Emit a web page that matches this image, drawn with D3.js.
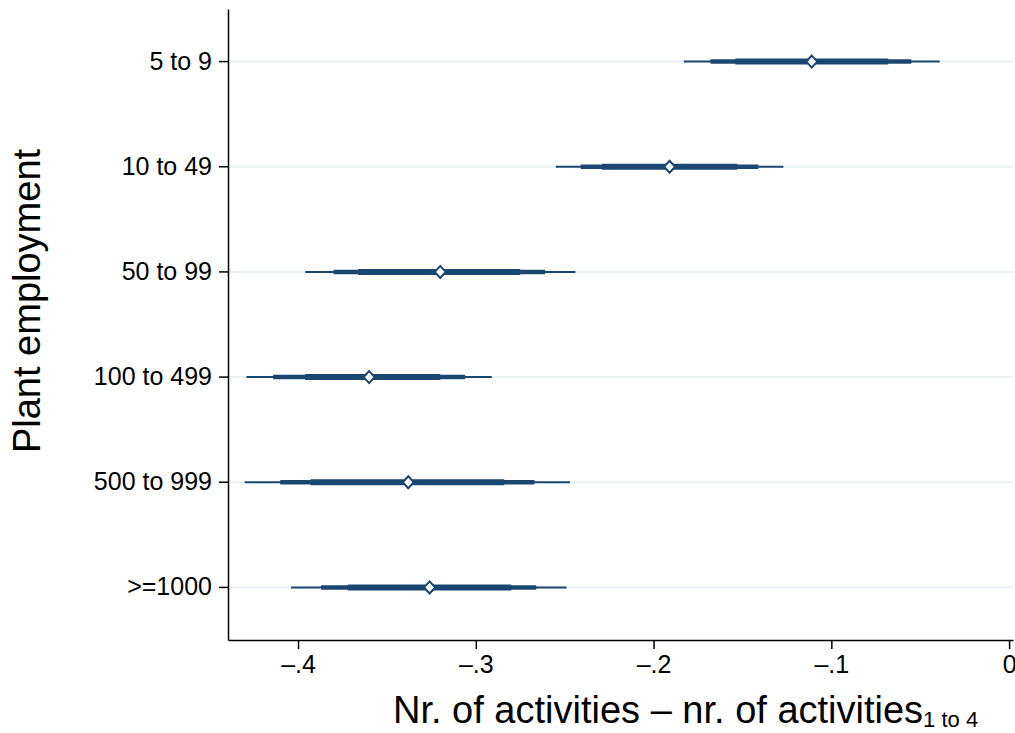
<!DOCTYPE html>
<html>
<head>
<meta charset="utf-8">
<script src="https://cdn.jsdelivr.net/npm/d3@7"></script>
<style>
  body { margin: 0; background: #fff; }
  svg text { font-family: "Liberation Sans", Arial, sans-serif; fill: #000; }
</style>
</head>
<body>
<svg id="chart" width="1015" height="733"></svg>
<script>
// categories, top to bottom
var categories = ['5 to 9', '10 to 49', '50 to 99', '100 to 499', '500 to 999', '>=1000'];
// point estimates
var estimates = [-0.111, -0.191, -0.320, -0.360, -0.338, -0.326];
// confidence bands, widest (thin line) to narrowest (thick line)
var ci99Low = [-0.183, -0.255, -0.396, -0.429, -0.430, -0.404];
var ci99High = [-0.039, -0.127, -0.244, -0.291, -0.247, -0.249];
var ci95Low = [-0.168, -0.241, -0.380, -0.414, -0.410, -0.387];
var ci95High = [-0.055, -0.141, -0.261, -0.306, -0.267, -0.266];
var ci90Low = [-0.154, -0.229, -0.366, -0.396, -0.393, -0.372];
var ci90High = [-0.068, -0.153, -0.275, -0.320, -0.284, -0.280];
var xTicks = [-0.4, -0.3, -0.2, -0.1, 0];

var navy = '#1a476f';
var svg = d3.select('#chart');

var x = d3.scaleLinear().domain([-0.4394, 0.0022]).range([228, 1013]);
var y = d3.scaleBand().domain(categories).range([9, 640]);
var yc = d => y(d) + y.bandwidth() / 2;

// gridlines
svg.append('g').selectAll('line')
  .data(categories)
  .enter().append('line')
    .attr('x1', 229).attr('x2', 1013)
    .attr('y1', yc).attr('y2', yc)
    .attr('stroke', '#eaf2f3')
    .attr('stroke-width', 2);

var rows = categories.map((c, i) => ({
  cat: c, est: estimates[i],
  bands: [
    {lo: ci99Low[i], hi: ci99High[i], w: 2},
    {lo: ci95Low[i], hi: ci95High[i], w: 4.5},
    {lo: ci90Low[i], hi: ci90High[i], w: 6}
  ]
}));

var row = svg.append('g').selectAll('g')
  .data(rows)
  .enter().append('g');

row.selectAll('line')
  .data(d => d.bands.map(b => Object.assign({cat: d.cat}, b)))
  .enter().append('line')
    .attr('x1', d => x(d.lo)).attr('x2', d => x(d.hi))
    .attr('y1', d => yc(d.cat)).attr('y2', d => yc(d.cat))
    .attr('stroke', navy)
    .attr('stroke-width', d => d.w);

// diamond markers
row.append('path')
  .attr('d', d => {
    var cx = x(d.est), cy = yc(d.cat);
    return `M${cx},${cy - 6} L${cx + 5.5},${cy} L${cx},${cy + 6} L${cx - 5.5},${cy} Z`;
  })
  .attr('fill', '#fff')
  .attr('stroke', navy)
  .attr('stroke-width', 2);

// axes
var fmt = d => d === 0 ? '0' : '\u2013' + d3.format('.1f')(Math.abs(d)).replace(/^0/, '');

var xAxis = svg.append('g')
  .attr('transform', 'translate(0,640)')
  .call(d3.axisBottom(x).tickValues(xTicks).tickFormat(fmt).tickSize(9).tickSizeOuter(0).tickPadding(6));
xAxis.selectAll('text').attr('font-size', 25).attr('font-family', null);

var yAxis = svg.append('g')
  .attr('transform', 'translate(228,0)')
  .call(d3.axisLeft(y).tickSize(9).tickSizeOuter(0).tickPadding(7));
yAxis.selectAll('text').attr('font-size', 25).attr('font-family', null);

svg.selectAll('.domain, .tick line').attr('stroke', '#000').attr('stroke-width', 1.5);

// titles
svg.append('text')
  .attr('transform', 'translate(40,301) rotate(-90)')
  .attr('text-anchor', 'middle')
  .attr('font-size', 38)
  .text('Plant employment');

var xt = svg.append('text')
  .attr('x', 393).attr('y', 723)
  .attr('font-size', 38)
  .text('Nr. of activities \u2013 nr. of activities');
xt.append('tspan')
  .attr('font-size', 22)
  .attr('dy', 4)
  .text('1 to 4');
</script>
</body>
</html>
